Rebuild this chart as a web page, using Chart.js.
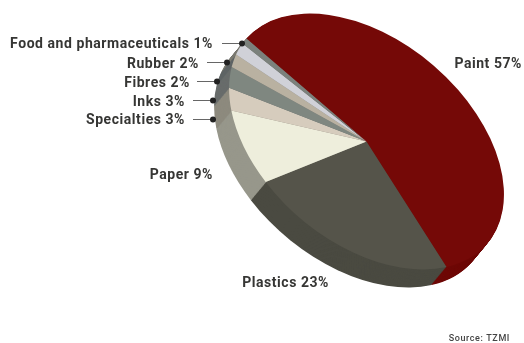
<!DOCTYPE html>
<html>
<head>
<meta charset="utf-8">
<script src="https://cdn.jsdelivr.net/npm/chart.js@4"></script>
<style>
    html, body { margin: 0; padding: 0; background: #fff; }
    canvas { display: block; }
</style>
</head>
<body>
<canvas id="pieChart" width="524" height="343"></canvas>
<script>
// data, clockwise starting at the top-left edge of the red slice
const categories = ['Paint', 'Plastics', 'Paper', 'Specialties', 'Inks', 'Fibres', 'Rubber', 'Food and pharmaceuticals'];
const shares = [57, 23, 9, 3, 3, 2, 2, 1];
const sourceNote = 'Source: TZMI';

const topColors = ['#750907', '#55544a', '#eeeedc', '#d6ccbd', '#7f8780', '#b9b1a1', '#d0d1d8', '#7b817c'];
const sideColors = ['#6e0806', '#4a4a41', '#97978b', '#8d8a7e', '#686c6b', '#5f6465', '#7b7a70', '#6d6f6c'];

// label anchors: [text right edge, text y, leader start x, leader end x, leader y]
const labelSpots = [
    [522, 64],
    [329, 283],
    [213, 175],
    [185, 120, 193, 213, 119],
    [185, 102, 193, 213, 100],
    [190, 83, 197, 217, 81],
    [199, 64, 207, 227, 62],
    [213, 44, 222, 242, 43]
];

// the flat pie is tilted onto the page with this matrix (in px per unit radius)
const pieCentre = { x: 366.5, y: 141.5 };
const tiltU = { x: 67, y: -76 };
const tiltV = { x: 120, y: 103 };
const depth = { x: -15, y: 18 };
const DEPTH_STEPS = 24;

const tiltPlugin = {
    id: 'tilt',
    beforeDatasetDraw(chart, args) {
        const ctx = chart.ctx;
        const arcs = args.meta.data;
        const cx = arcs[0].x, cy = arcs[0].y, r = arcs[0].outerRadius;

        const applyTilt = (dx, dy) => {
            ctx.translate(pieCentre.x + dx, pieCentre.y + dy);
            ctx.transform(tiltU.x / r, tiltU.y / r, tiltV.x / r, tiltV.y / r, 0, 0);
            ctx.translate(-cx, -cy);
        };

        // side wall: the same slices stacked downwards
        for (let step = DEPTH_STEPS; step >= 1; step--) {
            const t = step / DEPTH_STEPS;
            arcs.forEach((arc, i) => {
                ctx.save();
                applyTilt(depth.x * t, depth.y * t);
                ctx.beginPath();
                ctx.moveTo(cx, cy);
                ctx.arc(cx, cy, r, arc.startAngle, arc.endAngle);
                ctx.closePath();
                ctx.fillStyle = sideColors[i];
                ctx.fill();
                ctx.restore();
            });
        }

        ctx.save();
        applyTilt(0, 0);
    },
    afterDatasetDraw(chart) {
        chart.ctx.restore();
    },
    afterDraw(chart) {
        const ctx = chart.ctx;
        ctx.save();
        ctx.textBaseline = 'middle';
        ctx.textAlign = 'right';
        categories.forEach((name, i) => {
            const spot = labelSpots[i];
            ctx.font = 'bold 14px Roboto, sans-serif';
            ctx.letterSpacing = '0.55px';
            ctx.fillStyle = '#363634';
            ctx.fillText(name + ' ' + shares[i] + '%', spot[0], spot[1]);
            if (spot.length > 2) {
                ctx.strokeStyle = '#666';
                ctx.lineWidth = 1;
                ctx.beginPath();
                ctx.moveTo(spot[2], spot[4] + 0.5);
                ctx.lineTo(spot[3], spot[4] + 0.5);
                ctx.stroke();
                ctx.beginPath();
                ctx.arc(spot[3], spot[4] + 0.5, 3, 0, Math.PI * 2);
                ctx.fillStyle = '#222';
                ctx.fill();
            }
        });
        ctx.font = '500 9px Roboto, sans-serif';
        ctx.letterSpacing = '0.6px';
        ctx.fillStyle = '#444';
        ctx.fillText(sourceNote, 510, 339);
        ctx.restore();
    }
};

new Chart(document.getElementById('pieChart').getContext('2d'), {
    type: 'pie',
    data: {
        labels: categories,
        datasets: [{
            data: shares,
            backgroundColor: topColors,
            borderWidth: 0,
            clip: false
        }]
    },
    options: {
        responsive: false,
        devicePixelRatio: 1,
        animation: false,
        events: [],
        plugins: {
            legend: { display: false },
            tooltip: { enabled: false }
        }
    },
    plugins: [tiltPlugin]
});
</script>
</body>
</html>
